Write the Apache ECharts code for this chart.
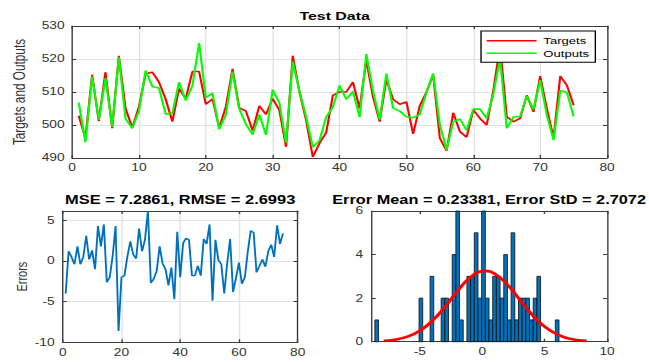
<!DOCTYPE html>
<html>
<head>
<meta charset="utf-8">
<script src="https://cdn.jsdelivr.net/npm/echarts@6/dist/echarts.min.js"></script>
<style>
  html, body { margin: 0; padding: 0; background: #fff; overflow: hidden; }
  #wrap { width: 649px; height: 362px; overflow: hidden; }
  #chart { width: 481px; height: 362px; transform: scaleX(1.3493); transform-origin: 0 0; }
</style>
</head>
<body>
<div id="wrap"><div id="chart"></div></div>
<script>
// Test set: network targets vs. outputs, one value per sample
const targets = [
  502.8, 496.0, 515.2, 501.2, 516.0, 499.0, 521.0, 505.0, 499.2, 505.5,
  515.5, 516.0, 513.0, 507.8, 501.0, 511.0, 508.0, 516.2, 516.2, 506.3,
  507.9, 499.2, 505.5, 517.0, 505.2, 504.2, 498.3, 505.8, 503.2, 508.0,
  504.5, 493.4, 521.0, 510.0, 501.5, 490.3, 494.5, 497.7, 509.0, 510.0,
  510.0, 513.0, 505.0, 519.7, 508.5, 501.0, 513.8, 507.8, 506.3, 507.0,
  497.3, 505.8, 510.0, 515.2, 496.0, 492.2, 503.7, 498.0, 496.3, 504.6,
  502.0, 500.0, 510.5, 524.0, 502.5, 501.0, 502.0, 509.0, 504.0, 514.8,
  505.0, 496.0, 514.8, 512.0, 506.0
];
const outputs = [
  506.8, 494.8, 514.7, 501.6, 514.2, 499.4, 520.5, 501.9, 499.0, 504.2,
  516.5, 511.7, 511.2, 503.3, 503.6, 513.0, 507.4, 511.9, 524.8, 508.3,
  509.7, 498.7, 503.1, 516.2, 504.9, 500.2, 497.1, 503.2, 497.0, 510.7,
  506.7, 494.6, 519.2, 510.3, 502.5, 493.3, 495.3, 502.4, 505.4, 512.0,
  507.8, 510.2, 502.4, 521.5, 510.3, 501.6, 515.6, 505.1, 504.2, 502.5,
  502.2, 503.2, 509.9, 515.6, 500.0, 492.5, 501.0, 501.8, 498.4, 504.8,
  504.8, 502.0, 509.4, 520.3, 499.0, 502.4, 502.6, 508.8, 504.7, 513.6,
  503.0, 495.5, 510.4, 509.9, 502.6
];
// Errors = targets - outputs
const errors = [
  -4.0, 1.2, 0.5, -0.4, 1.8, -0.4, 0.5, 3.1, 0.2, 1.3,
  -1.0, 4.3, 1.8, 4.5, -2.6, -2.0, 0.6, 4.3, -8.6, -2.0,
  -1.8, 0.5, 2.4, 0.8, 0.3, 4.0, 1.2, 2.6, 6.15, -2.7,
  -2.2, -1.2, 1.8, -0.3, -1.0, -3.0, -0.8, -4.7, 3.6, -2.0,
  2.2, 2.8, 2.6, -1.8, -1.8, -0.6, -1.8, 2.7, 2.1, 4.5,
  -4.9, 2.6, 0.1, -0.4, -4.0, -0.3, 2.7, -3.8, -2.1, -0.2,
  -2.8, -2.0, 1.1, 3.7, 3.5, -1.4, -0.6, 0.2, -0.7, 1.2,
  2.0, 0.5, 4.4, 2.1, 3.4
];

// Error histogram: 50 equal bins spanning the error range
const histRange = [-8.6, 6.15];
const histCounts = [
  1, 0, 0, 0, 0, 0, 0, 0, 0, 0,
  0, 0, 2, 0, 0, 3, 0, 0, 2, 2,
  0, 4, 6, 1, 0, 3, 3, 5, 2, 6,
  2, 1, 3, 3, 2, 4, 1, 5, 1, 2,
  2, 2, 1, 2, 3, 0, 0, 0, 0, 1
];
// Fitted normal curve, sampled along the error axis
const fitX = [-7.9, -7, -6, -5, -4, -3, -2, -1, 0, 0.23, 1, 2, 3, 4, 5, 6, 7, 8.36];
const fitY = [0.04, 0.09, 0.23, 0.50, 0.96, 1.59, 2.31, 2.93, 3.24, 3.25, 3.12, 2.63, 1.93, 1.24, 0.69, 0.34, 0.14, 0.04];

// Axis ticks
const topXTicks = [0, 10, 20, 30, 40, 50, 60, 70, 80];
const topYTicks = [490, 500, 510, 520, 530];
const errXTicks = [0, 20, 40, 60, 80];
const errYTicks = [-10, -5, 0, 5];
const histXTicks = [-5, 0, 5, 10];
const histYTicks = [0, 2, 4, 6];

const FONT = "'Liberation Sans', Arial, sans-serif";
const LABEL_COLOR = '#333';
const BOX_COLOR = '#3a3a3a';
const GRID_COLOR = '#e2e2e2';

const sampleNo = targets.map((_, i) => i + 1);
const binW = (histRange[1] - histRange[0]) / histCounts.length;

function boxAxis(extra) {
  return Object.assign({
    type: 'value',
    axisLine: { show: true, onZero: false, lineStyle: { color: BOX_COLOR, width: 1 } },
    axisTick: { show: true, inside: true, length: 3, lineStyle: { color: BOX_COLOR } },
    axisLabel: { show: false },
    splitLine: { show: false }
  }, extra);
}
function mainAxis(extra, ticks, margin) {
  return Object.assign({
    type: 'value',
    axisLine: { show: true, onZero: false, lineStyle: { color: BOX_COLOR, width: 1 } },
    axisTick: { show: true, inside: true, length: 3, customValues: ticks, lineStyle: { color: BOX_COLOR } },
    axisLabel: { show: true, customValues: ticks, margin: margin, fontSize: 10.2, fontFamily: FONT, color: LABEL_COLOR },
    splitLine: { show: true, lineStyle: { color: GRID_COLOR, width: 1 } }
  }, extra);
}

const chart = echarts.init(document.getElementById('chart'), null, { renderer: 'svg' });

chart.setOption({
  animation: false,
  backgroundColor: '#fff',
  textStyle: { fontFamily: FONT },
  grid: [
    { left: 46.3, right: 31.1, top: 26, bottom: 204 },
    { left: 46.5, right: 260.4, top: 211, bottom: 19.7 },
    { left: 275.5, right: 31.1, top: 211, bottom: 20.3 }
  ],
  graphic: [
    { type: 'text', x: 248, y: 16, style: { text: 'Test Data', font: 'bold 11.8px ' + FONT, fill: '#000', textAlign: 'center', textVerticalAlign: 'middle' } },
    { type: 'text', x: 133.5, y: 199.3, style: { text: 'MSE = 7.2861, RMSE = 2.6993', font: 'bold 12.2px ' + FONT, fill: '#000', textAlign: 'center', textVerticalAlign: 'middle' } },
    { type: 'text', x: 362.5, y: 199.3, style: { text: 'Error Mean = 0.23381, Error StD = 2.7072', font: 'bold 12.1px ' + FONT, fill: '#000', textAlign: 'center', textVerticalAlign: 'middle' } }
  ],
  legend: {
    data: ['Targets', 'Outputs'],
    orient: 'vertical',
    left: 356.5,
    top: 31,
    padding: [4.7, 4.6, 4, 4.2],
    icon: 'rect',
    itemWidth: 37,
    itemHeight: 1.6,
    itemGap: 2.6,
    borderColor: '#000',
    borderWidth: 1,
    borderRadius: 0,
    backgroundColor: '#fff',
    textStyle: { fontSize: 9.7, lineHeight: 10, color: '#000', fontFamily: FONT }
  },
  xAxis: [
    mainAxis({ gridIndex: 0, min: 0, max: 80, interval: 10, position: 'bottom' }, topXTicks, 5),
    boxAxis({ gridIndex: 0, min: 0, max: 80, interval: 10, position: 'top' }),
    mainAxis({ gridIndex: 1, min: 0, max: 80, interval: 20, position: 'bottom' }, errXTicks, 5),
    boxAxis({ gridIndex: 1, min: 0, max: 80, interval: 20, position: 'top' }),
    mainAxis({ gridIndex: 2, min: -8.85, max: 10, position: 'bottom', splitLine: { show: false } }, histXTicks, 5),
    boxAxis({ gridIndex: 2, min: -8.85, max: 10, position: 'top', axisTick: { show: true, inside: true, length: 3, customValues: histXTicks, lineStyle: { color: BOX_COLOR } } })
  ],
  yAxis: [
    mainAxis({ gridIndex: 0, min: 490, max: 530, interval: 10, position: 'left',
      name: 'Targets and Outputs', nameLocation: 'middle', nameGap: 26,
      nameTextStyle: { fontSize: 11.8, color: LABEL_COLOR, fontFamily: FONT } }, topYTicks, 5.5),
    boxAxis({ gridIndex: 0, min: 490, max: 530, interval: 10, position: 'right' }),
    mainAxis({ gridIndex: 1, min: -10, max: 6.15, interval: 5, position: 'left',
      name: 'Errors', nameLocation: 'middle', nameGap: 23.5,
      nameTextStyle: { fontSize: 11, color: LABEL_COLOR, fontFamily: FONT } }, errYTicks, 6),
    boxAxis({ gridIndex: 1, min: -10, max: 6.15, position: 'right', axisTick: { show: true, inside: true, length: 3, customValues: errYTicks, lineStyle: { color: BOX_COLOR } } }),
    mainAxis({ gridIndex: 2, min: 0, max: 6, interval: 2, position: 'left', splitLine: { show: false } }, histYTicks, 6.4),
    boxAxis({ gridIndex: 2, min: 0, max: 6, interval: 2, position: 'right' })
  ],
  series: [
    {
      name: 'Targets', type: 'line', xAxisIndex: 0, yAxisIndex: 0,
      data: targets.map((v, i) => [sampleNo[i], v]),
      symbol: 'none', color: '#ff0000', lineStyle: { color: '#ff0000', width: 1.6 }
    },
    {
      name: 'Outputs', type: 'line', xAxisIndex: 0, yAxisIndex: 0,
      data: outputs.map((v, i) => [sampleNo[i], v]),
      symbol: 'none', color: '#00ff00', lineStyle: { color: '#00ff00', width: 1.6 }
    },
    {
      name: 'Errors', type: 'line', xAxisIndex: 2, yAxisIndex: 2,
      data: errors.map((v, i) => [sampleNo[i], v]),
      symbol: 'none', lineStyle: { color: '#0072BD', width: 1.4 }
    },
    {
      name: 'Histogram', type: 'custom', xAxisIndex: 4, yAxisIndex: 4,
      data: histCounts
        .map((c, i) => [histRange[0] + i * binW, histRange[0] + (i + 1) * binW, c])
        .filter(d => d[2] > 0),
      encode: { x: [0, 1], y: 2 },
      renderItem: function (params, api) {
        const p0 = api.coord([api.value(0), api.value(2)]);
        const p1 = api.coord([api.value(1), 0]);
        return {
          type: 'rect',
          shape: { x: p0[0], y: p0[1], width: p1[0] - p0[0], height: p1[1] - p0[1] },
          style: { fill: '#0072BD', stroke: '#111', lineWidth: 0.7 }
        };
      }
    },
    {
      name: 'Fit', type: 'line', xAxisIndex: 4, yAxisIndex: 4,
      data: fitX.map((x, i) => [x, fitY[i]]),
      symbol: 'none', smooth: true, z: 5,
      lineStyle: { color: '#ff0000', width: 2.6 }
    }
  ]
});
</script>
</body>
</html>
